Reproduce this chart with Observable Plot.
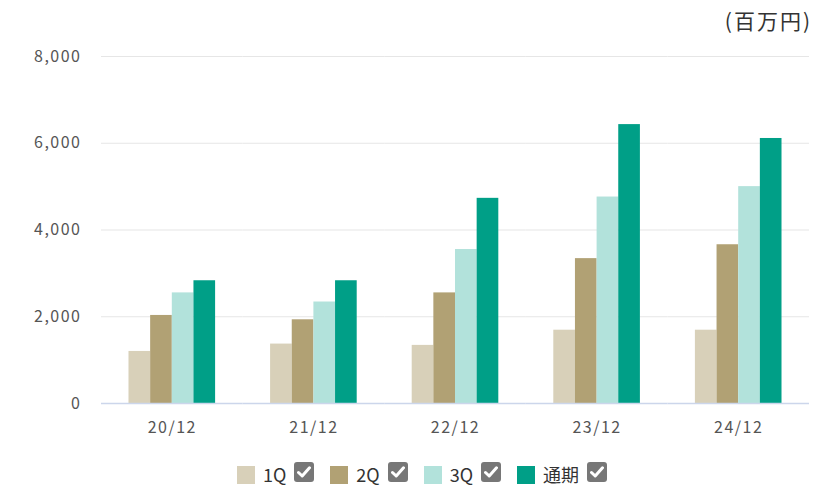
<!DOCTYPE html>
<html>
<head>
<meta charset="utf-8">
<script src="https://cdn.jsdelivr.net/npm/d3@7"></script>
<script src="https://cdn.jsdelivr.net/npm/@observablehq/plot@0.6"></script>
<style>
  html, body { margin: 0; padding: 0; background: #fff; }
  body { width: 834px; height: 490px; overflow: hidden; font-family: "Noto Sans CJK JP", "Noto Sans", sans-serif; }
  #unit { height: 40px; box-sizing: border-box; text-align: right; padding-right: 22px; padding-top: 6px; font-size: 21px; letter-spacing: 2px; color: #333; line-height: 28px; }
  #legend { display: flex; justify-content: flex-start; align-items: flex-start; height: 40px; padding-left: 237px; box-sizing: border-box; font-size: 18px; color: #333; }
  .item { display: flex; align-items: flex-start; margin-right: 16px; }
  .sw { width: 18px; height: 18px; margin-top: 16px; margin-right: 8px; }
  .lbl { margin-top: 12px; line-height: 24px; }
  .cb { width: 20px; height: 20px; border-radius: 3px; background: #777; margin-left: 8px; margin-top: 12px; display: flex; align-items: center; justify-content: center; }
</style>
</head>
<body>
<div id="unit">(百万円)</div>
<div id="chart"></div>
<div id="legend"></div>
<script>
const years = ["20/12", "21/12", "22/12", "23/12", "24/12"];
const seriesNames = ["1Q", "2Q", "3Q", "通期"];
const q1 = [1200, 1370, 1340, 1690, 1690];
const q2 = [2030, 1930, 2550, 3340, 3660];
const q3 = [2550, 2340, 3550, 4760, 5000];
const full = [2830, 2830, 4730, 6430, 6110];
const yTicks = [0, 2000, 4000, 6000, 8000];
const colors = ["#d8d0b9", "#b1a174", "#b2e2db", "#009f87"];

const seriesValues = [q1, q2, q3, full];
const data = [];
years.forEach((yr, i) => {
  seriesNames.forEach((s, j) => data.push({ year: yr, series: s, value: seriesValues[j][i] }));
});

const fmt = d3.format(",");
const chart = Plot.plot({
  width: 834,
  height: 410,
  marginTop: 16,
  marginBottom: 47,
  marginLeft: 101,
  marginRight: 25,
  style: { fontFamily: "'Noto Sans CJK JP', 'Noto Sans', sans-serif", fontSize: "16px", letterSpacing: "1.5px", color: "#555", background: "#fff" },
  fx: { domain: years, padding: 0, round: false, label: null, tickSize: 0, tickPadding: 18 },
  x: { domain: seriesNames, paddingInner: 0, paddingOuter: 1.27, round: false, axis: null },
  y: { domain: [0, 8000], ticks: yTicks, tickFormat: d => fmt(d), label: null, tickSize: 0, tickPadding: 20 },
  color: { domain: seriesNames, range: colors },
  marks: [
    Plot.ruleY(yTicks.filter(d => d > 0), { stroke: "#e6e6e6", strokeWidth: 1.2 }),
    Plot.barY(data, { fx: "year", x: "series", y: "value", fill: "series" }),
    Plot.ruleY([0], { stroke: "#ccd6eb", strokeWidth: 1.5 })
  ]
});
document.getElementById("chart").appendChild(chart);

const legend = document.getElementById("legend");
seriesNames.forEach((s, j) => {
  const it = document.createElement("div");
  it.className = "item";
  it.innerHTML = `<span class="sw" style="background:${colors[j]}"></span><span class="lbl">${s}</span>` +
    `<span class="cb"><svg width="14" height="12" viewBox="0 0 14 12"><polyline points="1.5,6.5 5.2,10 12.5,1.8" fill="none" stroke="#fff" stroke-width="3" stroke-linecap="round" stroke-linejoin="round"/></svg></span>`;
  legend.appendChild(it);
});
</script>
</body>
</html>
